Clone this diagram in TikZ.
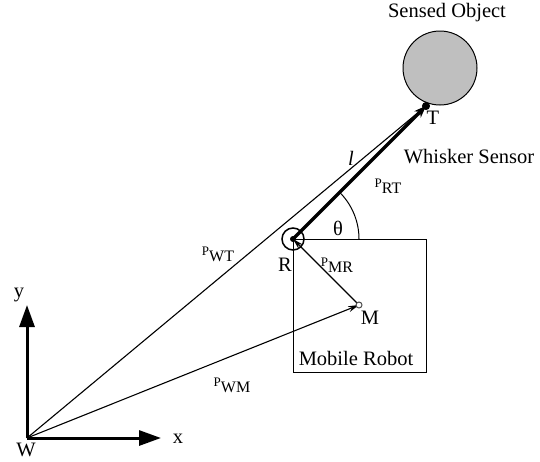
\documentclass[tikz,border=0pt]{standalone}
\usepackage{fontspec}
\setmainfont{Liberation Serif}
\usetikzlibrary{arrows.meta,calc}
\tikzset{
  lbl/.style={inner sep=0pt, font=\fontsize{20.5}{23}\selectfont},
  thin/.style={line width=1.1pt, -{Stealth[length=11pt,width=6pt]}},
  axis/.style={line width=3pt, -{Triangle[length=22pt,width=15pt]}},
}
\newcommand\pvec[1]{{\fontsize{13}{13}\selectfont P}\raisebox{-6pt}{\fontsize{16}{16}\selectfont #1}}
\begin{document}
\begin{tikzpicture}[x=1pt,y=-1pt]
\useasboundingbox (0,0) rectangle (540,461);
% points
\coordinate (W) at (27,438);
\coordinate (R) at (293,239);
\coordinate (T) at (426,106);
\coordinate (M) at (359,305);
\coordinate (Yt) at (27,305);
\coordinate (Xt) at (161,438);
% sensed object
\node[circle, draw, line width=1pt, fill=black!25, minimum size=74pt, inner sep=0pt] (obj) at (440,68) {};
\node[lbl] (objl) at (447,13) {Sensed Object};
% robot box
\node[draw, line width=1pt, minimum width=133pt, minimum height=133pt, inner sep=0pt, anchor=north west] (box) at (R) {};
\node[lbl] (mr) at (356,358) {Mobile Robot};
% axes
\draw[axis] (W) -- (Yt);
\draw[axis] (W) -- (Xt);
\node[lbl] (yl) at (19,295) {y};
\node[lbl] (xl) at (178,439) {x};
\node[lbl] (Wl) at (26,450) {W};
% vectors
\draw[thin] (W) -- (T);
\draw[thin] (W) -- (M);
\draw[thin] (M) -- (R);
% whisker
\draw[line width=3.2pt, -{Stealth[length=12pt,width=9pt]}] (R) -- (T);
% theta arc
\draw[line width=1pt] ($(R)+(66,0)$) arc[start angle=0, end angle=-45, radius=66];
% R sensor circle
\node[circle, draw, line width=1.5pt, minimum size=22pt, inner sep=0pt] (Rc) at (R) {};
\fill (R) circle (3pt);
% T point
\node[circle, draw, line width=1pt, fill=black, minimum size=7pt, inner sep=0pt] (Tp) at (T) {};
% M point
\node[circle, draw=black!70, line width=1pt, fill=white, minimum size=6pt, inner sep=0pt] (Mp) at (M) {};
% labels
\node[lbl] (Tl) at (433,118) {T};
\node[lbl] (whl) at (469,157) {Whisker Sensor};
\node[lbl] (ll) at (351,158) {\itshape l};
\node[lbl] (prt) at (388,186) {\pvec{RT}};
\node[lbl] (th) at (338,228) {θ};
\node[lbl] (pwt) at (218,254) {\pvec{WT}};
\node[lbl] (Rl) at (285,265) {R};
\node[lbl] (pmr) at (337,265) {\pvec{MR}};
\node[lbl] (Ml) at (370,318) {M};
\node[lbl] (pwm) at (232,385) {\pvec{WM}};
\end{tikzpicture}
\end{document}
